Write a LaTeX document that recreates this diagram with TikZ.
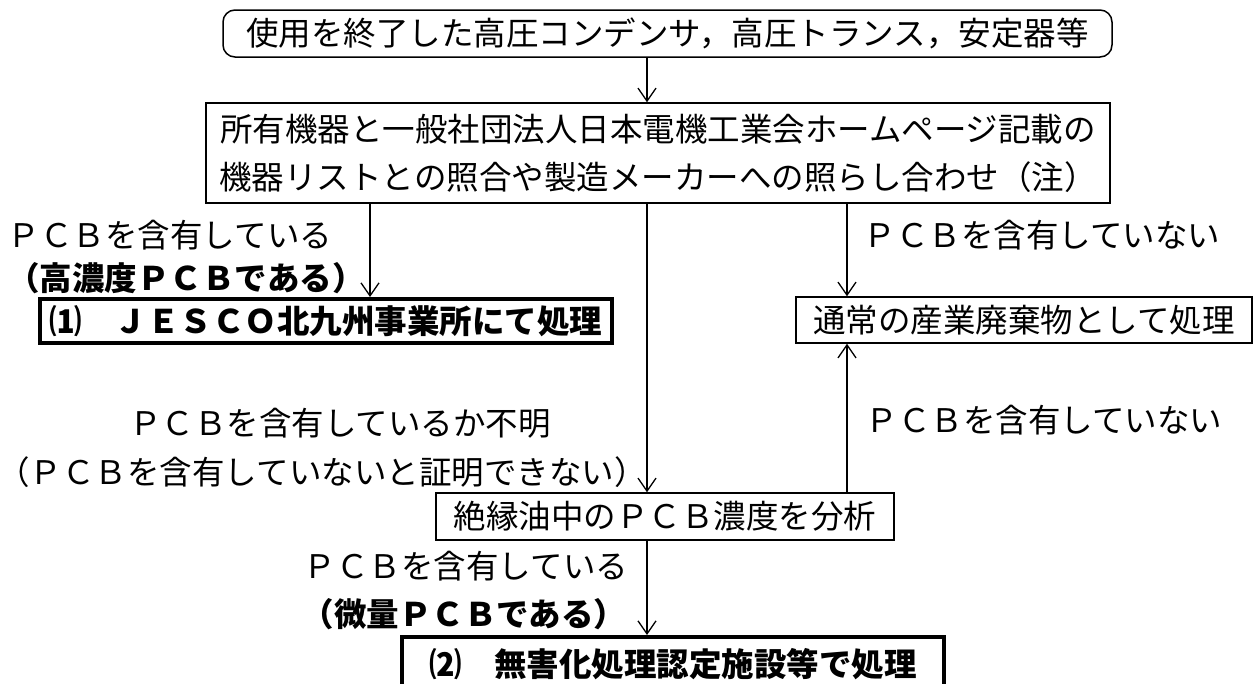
\documentclass[tikz,border=0pt]{standalone}
\usepackage{fontspec}
\setmainfont{Noto Sans CJK JP}
\usetikzlibrary{arrows.meta}

\begin{document}
\begin{tikzpicture}[x=1pt, y=-1pt,
    every node/.style={font=\fontsize{32.5}{48}\selectfont, inner sep=0pt},
    box/.style={draw, line width=1.5pt, minimum height=46pt},
    heavybox/.style={draw, line width=4pt, minimum height=44pt,
        font=\fontsize{32.5}{48}\selectfont\bfseries},
    boldlbl/.style={font=\fontsize{32.5}{48}\selectfont\bfseries},
    arr/.style={line width=1.5pt,
        -{Straight Barb[length=13pt, width=18pt, line width=1.3pt]}}]
    \useasboundingbox (0,0) rectangle (1258,683);
    \coordinate (lft) at (370,0);
    \coordinate (mid) at (647,0);
    \coordinate (side) at (847,0);
    % boxes
    \node[box, rounded corners=12pt, minimum width=889pt, minimum height=47pt]
        (start) at (667.5,33.5) {使用を終了した高圧コンデンサ，高圧トランス，安定器等};
    \node[box, minimum width=904pt, minimum height=100pt, align=center]
        (check) at (658,153) {所有機器と一般社団法人日本電機工業会ホームページ記載の\\
        機器リストとの照合や製造メーカーへの照らし合わせ（注）};
    \node[heavybox, minimum width=572pt] (jesco) at (326,321)
        {⑴　ＪＥＳＣＯ北九州事業所にて処理};
    \node[box, minimum width=456pt] (waste) at (1024,320) {通常の産業廃棄物として処理};
    \node[box, minimum width=458pt, minimum height=47pt] (analysis) at (665,516.5)
        {絶縁油中のＰＣＢ濃度を分析};
    \node[heavybox, minimum width=542pt, minimum height=54pt] (harmless) at (673,664)
        {\raisebox{3pt}{⑵　無害化処理認定施設等で処理}};
    % labels
    \node (hasL) at (170,235) {ＰＣＢを含有している};
    \node[boldlbl] (highL) at (186,278) {（高濃度ＰＣＢである）};
    \node (noneR) at (1042,235) {ＰＣＢを含有していない};
    \node (unknown) at (340,423) {ＰＣＢを含有しているか不明};
    \node (proof) at (322,472) {（ＰＣＢを含有していないと証明できない）};
    \node (noneR2) at (1044,420) {ＰＣＢを含有していない};
    \node (hasB) at (466,566) {ＰＣＢを含有している};
    \node[boldlbl] (lowB) at (464,614) {（微量ＰＣＢである）};
    % connectors
    \draw[arr] (start.south -| mid) -- (check.north -| mid);
    \draw[arr] (check.south -| lft) -- (jesco.north -| lft);
    \draw[arr] (check.south -| side) -- (waste.north -| side);
    \draw[arr] (check.south -| mid) -- (analysis.north -| mid);
    \draw[arr] (analysis.north -| side) -- (waste.south -| side);
    \draw[arr] (analysis.south -| mid) -- (harmless.north -| mid);
\end{tikzpicture}
\end{document}
